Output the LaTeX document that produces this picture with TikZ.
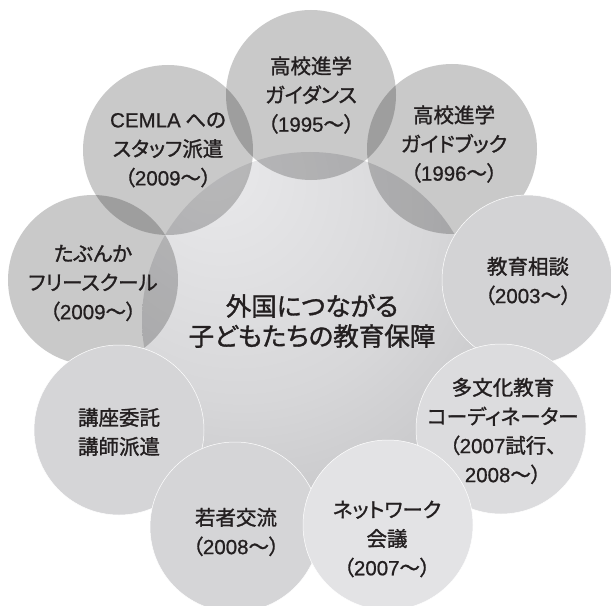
\documentclass[tikz,border=0pt]{standalone}
\usepackage{fontspec}
\newfontfamily\jp[RawFeature=+palt, FakeBold=1.3]{Noto Sans CJK JP}
\newfontfamily\lat[FakeBold=0.8]{Liberation Sans}
\newcommand\yrs[1]{{\lat #1}}
\definecolor{txt}{HTML}{231F20}
\definecolor{sA}{HTML}{EAEAEC}
\definecolor{sB}{HTML}{D7D7D9}
\definecolor{sC}{HTML}{C8C8CA}
\definecolor{sD}{HTML}{A4A4A6}
\definecolor{sE}{HTML}{8E8E90}
\definecolor{cSoudan}{HTML}{D3D3D5}
\definecolor{cTabunka}{HTML}{DCDCDE}
\definecolor{cNet}{HTML}{E3E3E5}
\definecolor{cWaka}{HTML}{D5D5D7}
\definecolor{cKouza}{HTML}{D5D5D7}
\pgfdeclareradialshading{ctrshade}{\pgfpoint{-15.5bp}{24.4bp}}{color(0bp)=(sA); color(28bp)=(sB); color(42bp)=(sC); color(63bp)=(sD); color(82bp)=(sE)}
\begin{document}
\begin{tikzpicture}[x=1bp,y=-1bp,
  mult/.style={fill=black, fill opacity=0.21, draw=none},
  opq/.style={draw=white, line width=0.5bp},
  lbl/.style={text=txt, align=center, font=\jp\fontsize{20.5bp}{29bp}\selectfont, inner sep=0pt},
  clbl/.style={text=txt, align=center, font=\jp\fontsize{25.5bp}{30bp}\selectfont, inner sep=0pt}]
\useasboundingbox (0,0) rectangle (611,606);
\clip (0,0) rectangle (611,606);
% centre
\coordinate (cc) at (310,320);
\shade[shading=ctrshade] (cc) circle[radius=168bp];
% coordinates of outer circles
\coordinate (c1) at (311,95);
\coordinate (c2) at (452,149);
\coordinate (c3) at (527,280);
\coordinate (c4) at (501,429);
\coordinate (c5) at (388,525);
\coordinate (c6) at (235,527);
\coordinate (c7) at (119,430);
\coordinate (c8) at (93,280);
\coordinate (c9) at (168,150);
% multiplied circles
\fill[mult] (c1) circle[radius=85bp];
\fill[mult] (c2) circle[radius=85bp];
\fill[mult] (c9) circle[radius=85bp];
\fill[mult] (c8) circle[radius=85bp];
% opaque circles
\filldraw[opq, fill=cSoudan] (c3) circle[radius=85bp];
\filldraw[opq, fill=cKouza] (c7) circle[radius=85bp];
\filldraw[opq, fill=cTabunka] (c4) circle[radius=85bp];
\filldraw[opq, fill=cWaka] (c6) circle[radius=85bp];
\filldraw[opq, fill=cNet] (c5) circle[radius=85bp];
% labels
\node[clbl] (tc) at (312,321) {外国につながる\\子どもたちの教育保障};
\node[lbl] (t1) at (311,95) {高校進学\\ガイダンス\\（\yrs{1995}～）};
\node[lbl] (t2) at (454,144) {高校進学\\ガイドブック\\（\yrs{1996}～）};
\node[lbl] (t3) at (528,281) {教育相談\\（\yrs{2003}～）};
\node[lbl] (t4) at (503,431) {多文化教育\\コーディネーター\\（\yrs{2007}試行、\\\yrs{2008}～）};
\node[lbl] (t5) at (387,539) {ネットワーク\\会議\\（\yrs{2007}～）};
\node[lbl] (t6) at (236,532) {若者交流\\（\yrs{2008}～）};
\node[lbl] (t7) at (119,432) {講座委託\\講師派遣};
\node[lbl] (t8) at (93,283) {たぶんか\\フリースクール\\（\yrs{2009}～）};
\node[lbl] (t9) at (168,150) {\yrs{CEMLA} への\\スタッフ派遣\\（\yrs{2009}～）};
\end{tikzpicture}
\end{document}
